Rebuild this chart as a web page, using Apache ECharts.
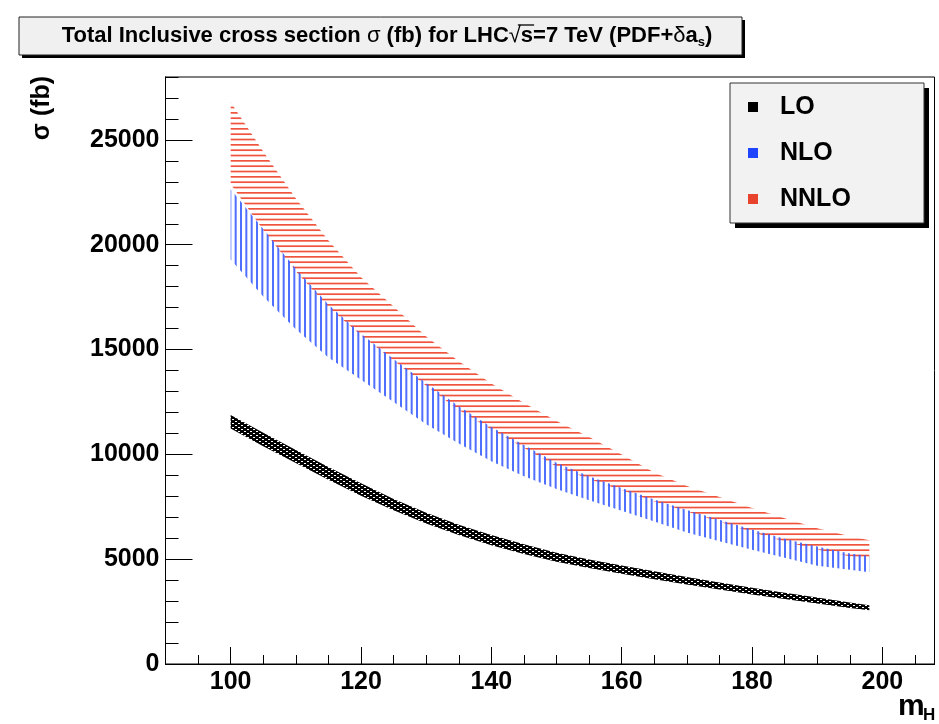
<!DOCTYPE html>
<html>
<head>
<meta charset="utf-8">
<script src="https://cdn.jsdelivr.net/npm/echarts@6/dist/echarts.min.js"></script>
<style>
  html, body { margin: 0; padding: 0; background: #fff; }
  #chart { width: 939px; height: 724px; }
</style>
</head>
<body>
<div id="chart"></div>
<script>
// Higgs mass points (GeV) and band edges (fb)
const mH = [100, 105, 110, 115, 120, 125, 130, 135, 140, 145, 150, 155, 160, 165, 170, 175, 180, 185, 190, 195, 198]

const loLow   = [11230, 10390, 9590, 8790, 8030, 7330, 6700, 6150, 5670, 5250, 4880, 4580, 4310, 4040, 3790, 3550, 3320, 3100, 2880, 2670, 2560]
const loHigh  = [11880, 11030, 10210, 9400, 8620, 7870, 7210, 6640, 6150, 5710, 5310, 4990, 4700, 4420, 4150, 3890, 3640, 3400, 3170, 2930, 2800]

const nloLow  = [19300, 17530, 15970, 14620, 13560, 12500, 11440, 10520, 9670, 8960, 8350, 7810, 7310, 6800, 6270, 5860, 5450, 5070, 4690, 4490, 4380]
const nloHigh = [22650, 20750, 18850, 17150, 15750, 14550, 13400, 12300, 11300, 10450, 9600, 8950, 8400, 7850, 7350, 6880, 6420, 5980, 5600, 5270, 5150]

const nnloLow  = [22900, 20700, 18740, 17020, 15680, 14480, 13270, 12110, 11180, 10320, 9420, 8830, 8290, 7750, 7270, 6780, 6300, 5840, 5460, 5140, 5050]
const nnloHigh = [26800, 24450, 22200, 20200, 18450, 17050, 15620, 14440, 13380, 12450, 11590, 10830, 9990, 9140, 8490, 7960, 7440, 6950, 6480, 6090, 5900]

const legendNames = ['LO', 'NLO', 'NNLO']
const legendColors = ['#000000', '#1f44ff', '#e8432c']

const FONT = '"Liberation Sans", Arial, Helvetica, sans-serif'

// little canvases used as hatch fills, like ROOT fill styles
function pattern(w, h, draw) {
  const c = document.createElement('canvas')
  c.width = w; c.height = h
  draw(c.getContext('2d'))
  return c
}
const vertHatch = pattern(16, 8, ctx => {
  ctx.fillStyle = 'rgba(60,95,255,0.9)'
  ;[0, 5.33, 10.67].forEach(x => ctx.fillRect(x, 0, 2, 8))
})
const horizHatch = pattern(8, 16, ctx => {
  ctx.fillStyle = 'rgba(240,65,40,0.9)'
  ;[0, 5.33, 10.67].forEach(y => ctx.fillRect(0, y, 8, 1.7))
})
const darkHatch = pattern(6, 4, ctx => {
  ctx.fillStyle = '#000'
  ctx.fillRect(0, 0, 6, 4)
  ctx.fillStyle = '#fff'
  ctx.fillRect(1, 1, 2, 1)
  ctx.fillRect(4, 3, 2, 1)
})

// one polygon per band: along the upper edge, back along the lower edge
function band(name, low, high, fill, color) {
  return {
    name: name, type: 'custom', color: color, clip: true,
    data: mH.map((m, i) => [m, low[i], high[i]]),
    renderItem: (params, api) => {
      if (params.dataIndex !== 0) return null
      const top = mH.map((m, i) => api.coord([m, high[i]]))
      const bottom = mH.map((m, i) => api.coord([m, low[i]])).reverse()
      return { type: 'polygon', shape: { points: top.concat(bottom) },
        style: { fill: { image: fill, repeat: 'repeat' }, stroke: null } }
    }
  }
}

// title pieces; widths measured so the bar over "s" sits under the root sign
const titleParts = [
  ['a', 'Total Inclusive cross section'], ['g', ' σ'], ['a', ' (fb) for LHC'], ['g', '√'],
  ['a', 's'], ['a', '=7 TeV (PDF+'], ['g', 'δ'], ['a', 'a'], ['s', 's'], ['a', ')']
]
const titleFonts = { a: 'bold 22px ' + FONT, g: '22px ' + FONT, s: 'bold 13px ' + FONT }
const mctx = document.createElement('canvas').getContext('2d')
const widths = titleParts.map(([k, t]) => { mctx.font = titleFonts[k]; return mctx.measureText(t).width })
const titleCx = 387
const titleLeft = titleCx - widths.reduce((a, b) => a + b, 0) / 2
const sqrtLeft = titleLeft + widths.slice(0, 3).reduce((a, b) => a + b, 0)
const barFrom = sqrtLeft + widths[3] * 0.75
const barTo = sqrtLeft + widths[3] + widths[4] + 1

const chart = echarts.init(document.getElementById('chart'))
const axisLine = { show: true, lineStyle: { color: '#000', width: 1 } }
const label = { fontFamily: FONT, fontWeight: 'bold', fontSize: 25, color: '#000' }
const plain = v => String(v)

chart.setOption({
  animation: false,
  grid: { left: 165.5, top: 77, width: 769, height: 587, show: true, borderColor: '#000', borderWidth: 1,
    containLabel: false, outerBoundsMode: 'none' },
  xAxis: [
    { type: 'value', position: 'bottom', min: 90, max: 208, interval: 5, axisLine,
      axisTick: { inside: true, length: 9, lineStyle: { color: '#000' } },
      axisLabel: { show: false }, splitLine: { show: false } },
    { type: 'value', position: 'bottom', min: 90, max: 208, axisLine,
      axisTick: { inside: true, length: 17, lineStyle: { color: '#000' } },
      axisLabel: { ...label, margin: 6, formatter: plain, showMinLabel: false, showMaxLabel: false },
      splitLine: { show: false } }
  ],
  yAxis: [
    { type: 'value', position: 'left', min: 0, max: 28000, interval: 1000, axisLine,
      axisTick: { inside: true, length: 13, lineStyle: { color: '#000' } },
      axisLabel: { show: false }, splitLine: { show: false } },
    { type: 'value', position: 'left', min: 0, max: 28000, interval: 5000, axisLine,
      axisTick: { inside: true, length: 27, lineStyle: { color: '#000' } },
      axisLabel: { ...label, margin: 6, formatter: plain, showMaxLabel: false }, splitLine: { show: false } }
  ],
  legend: {
    orient: 'vertical', left: 730, top: 83, icon: 'rect', itemWidth: 10, itemHeight: 10, itemGap: 16,
    padding: [9, 73, 10, 18],
    textStyle: { ...label, lineHeight: 30, padding: [0, 0, 0, 17] },
    data: legendNames.map((n, i) => ({ name: n, itemStyle: { color: legendColors[i] } }))
  },
  graphic: [
    // title box with its drop shadow
    { type: 'rect', z: -1, shape: { x: 22, y: 20, width: 723, height: 38 }, style: { fill: '#000' } },
    { type: 'rect', z: -1, shape: { x: 19, y: 17, width: 723, height: 38 }, style: { fill: '#f0f0f0', stroke: '#222', lineWidth: 1 } },
    { type: 'text', x: titleCx, y: 36, style: {
        text: titleParts.map(([k, t]) => '{' + k + '|' + t + '}').join(''),
        align: 'center', verticalAlign: 'middle',
        rich: {
          a: { fontFamily: FONT, fontWeight: 'bold', fontSize: 22, fill: '#000' },
          g: { fontFamily: FONT, fontSize: 22, fill: '#000' },
          s: { fontFamily: FONT, fontWeight: 'bold', fontSize: 13, fill: '#000', padding: [12, 0, 0, 0] }
        } } },
    { type: 'line', shape: { x1: barFrom, y1: 25, x2: barTo, y2: 25 }, style: { stroke: '#000', lineWidth: 1.3 } },
    // legend box with its drop shadow
    { type: 'rect', z: -1, shape: { x: 735, y: 88, width: 194, height: 140 }, style: { fill: '#000' } },
    { type: 'rect', z: -1, shape: { x: 730, y: 83, width: 194, height: 140 }, style: { fill: '#f2f2f2', stroke: '#333', lineWidth: 1 } },
    { type: 'text', x: 42, y: 108, rotation: Math.PI / 2, style: {
        text: 'σ (fb)', fontFamily: FONT, fontWeight: 'bold', fontSize: 25, fill: '#000',
        align: 'center', verticalAlign: 'middle' } },
    { type: 'text', x: 898, y: 692, style: { text: 'm', fontFamily: FONT, fontWeight: 'bold', fontSize: 30, fill: '#000' } },
    { type: 'text', x: 923, y: 707, style: { text: 'H', fontFamily: FONT, fontWeight: 'bold', fontSize: 17, fill: '#000' } }
  ],
  series: [
    band('NNLO', nnloLow, nnloHigh, horizHatch, legendColors[2]),
    band('NLO', nloLow, nloHigh, vertHatch, legendColors[1]),
    band('LO', loLow, loHigh, darkHatch, legendColors[0])
  ]
})
</script>
</body>
</html>
